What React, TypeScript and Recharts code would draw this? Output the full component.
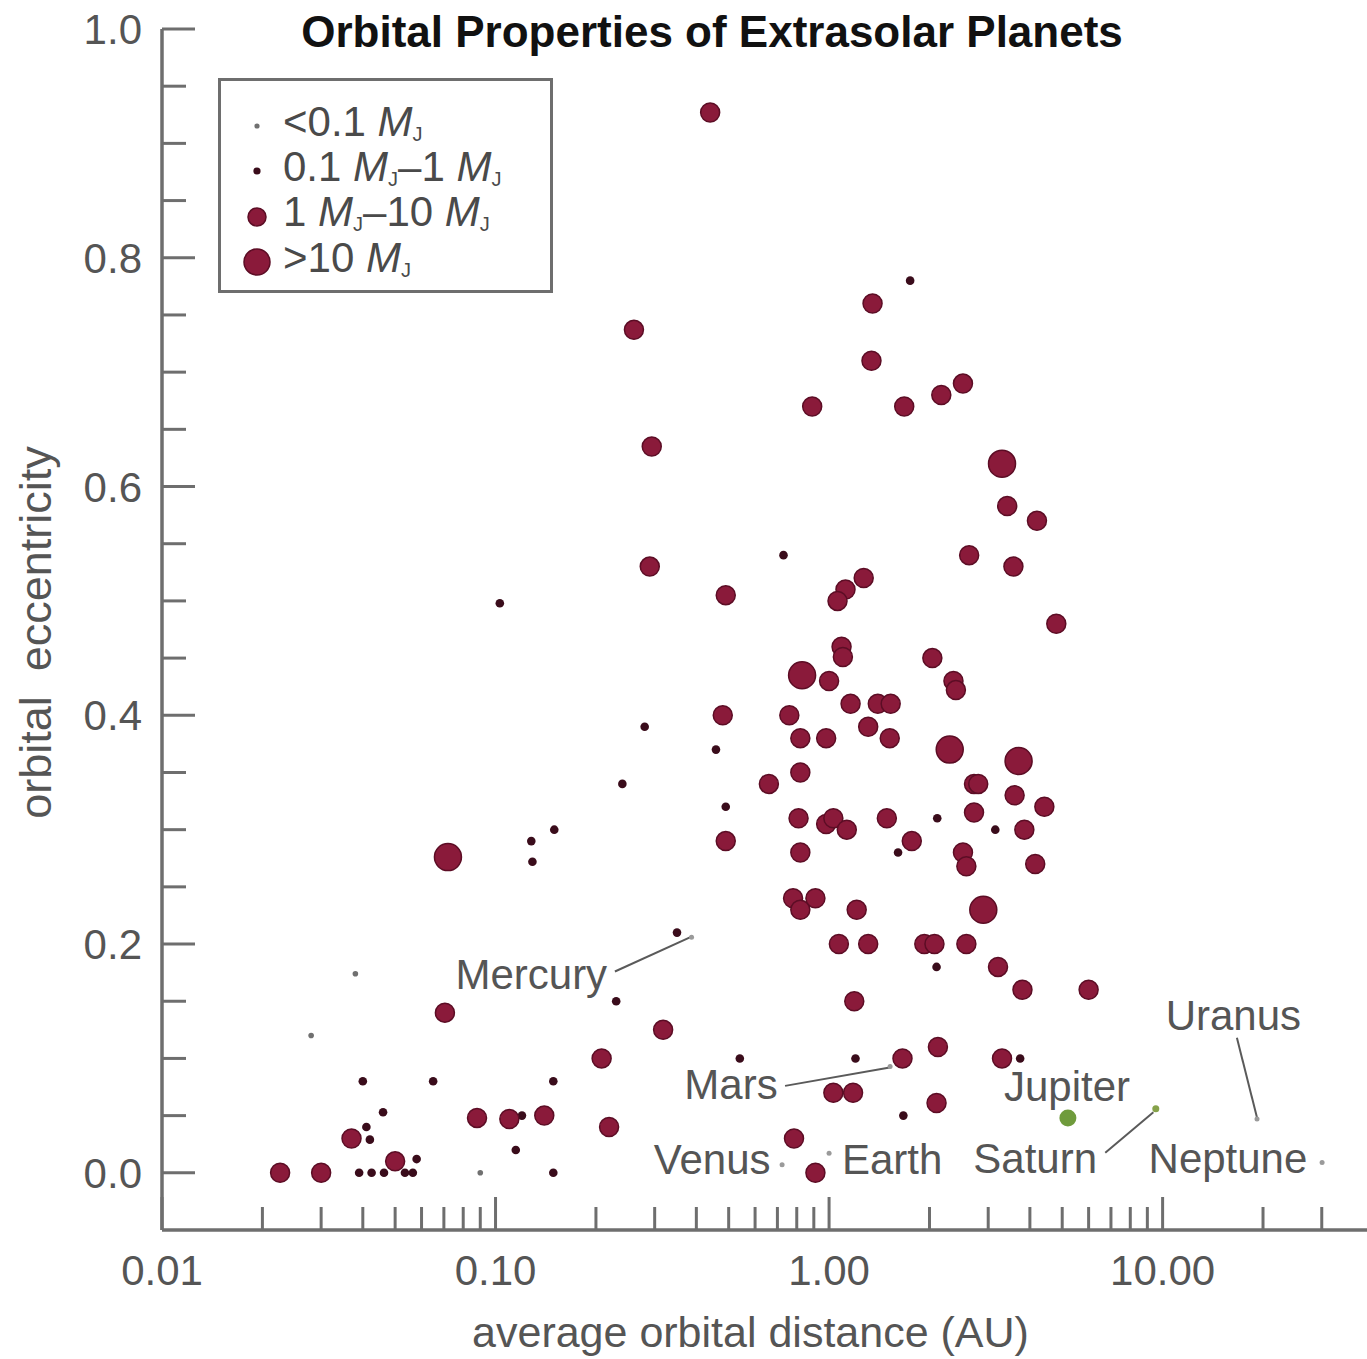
import React from 'react';
import { ScatterChart, Scatter, XAxis, YAxis, Legend, ReferenceLine, ReferenceDot } from 'recharts';

const FONT = '"Liberation Sans", Arial, Helvetica, sans-serif';
const TEXT = '#555555';
const AXIS = '#6e6e6e';

// ---- axis ticks ----
const xTicks = [0.01, 0.02, 0.03, 0.04, 0.05, 0.06, 0.07, 0.08, 0.09, 0.1, 0.2, 0.3, 0.4, 0.5, 0.6, 0.7, 0.8, 0.9, 1, 2, 3, 4, 5, 6, 7, 8, 9, 10, 20, 30];
const xMajorTicks = [0.01, 0.1, 1, 10];
const yTicks = [0, 0.05, 0.1, 0.15, 0.2, 0.25, 0.3, 0.35, 0.4, 0.45, 0.5, 0.55, 0.6, 0.65, 0.7, 0.75, 0.8, 0.85, 0.9, 0.95, 1.0];
const yLabelledTicks = [0, 0.2, 0.4, 0.6, 0.8, 1.0];

type Pt = { a: number; e: number };

// ---- exoplanets by mass class (a = AU, e = eccentricity) ----
const planetsBelow01: Pt[] = [
  { a: 0.038, e: 0.174 }, { a: 0.028, e: 0.12 }, { a: 0.09, e: 0.0 },
];

const planets01to1: Pt[] = [
  { a: 1.75, e: 0.78 }, { a: 0.73, e: 0.54 }, { a: 0.103, e: 0.498 }, { a: 0.28, e: 0.39 },
  { a: 0.458, e: 0.37 }, { a: 0.49, e: 0.32 }, { a: 0.24, e: 0.34 }, { a: 0.15, e: 0.30 },
  { a: 0.128, e: 0.29 }, { a: 0.129, e: 0.272 }, { a: 0.54, e: 0.10 }, { a: 1.2, e: 0.10 },
  { a: 1.67, e: 0.05 }, { a: 2.11, e: 0.31 }, { a: 3.15, e: 0.30 }, { a: 2.1, e: 0.18 },
  { a: 3.74, e: 0.10 }, { a: 1.61, e: 0.28 }, { a: 0.23, e: 0.15 }, { a: 0.35, e: 0.21 },
  { a: 0.040, e: 0.08 }, { a: 0.065, e: 0.08 }, { a: 0.149, e: 0.08 }, { a: 0.046, e: 0.053 },
  { a: 0.12, e: 0.05 }, { a: 0.041, e: 0.04 }, { a: 0.042, e: 0.029 }, { a: 0.115, e: 0.02 },
  { a: 0.039, e: 0.0 }, { a: 0.0425, e: 0.0 }, { a: 0.0463, e: 0.0 }, { a: 0.0535, e: 0.0 },
  { a: 0.0565, e: 0.0 }, { a: 0.058, e: 0.012 }, { a: 0.149, e: 0.0 },
];

const planets1to10: Pt[] = [
  { a: 0.44, e: 0.927 }, { a: 0.26, e: 0.737 }, { a: 1.35, e: 0.76 }, { a: 1.34, e: 0.71 },
  { a: 2.52, e: 0.69 }, { a: 2.17, e: 0.68 }, { a: 0.89, e: 0.67 }, { a: 1.68, e: 0.67 },
  { a: 0.294, e: 0.635 }, { a: 3.42, e: 0.583 }, { a: 4.2, e: 0.57 }, { a: 2.63, e: 0.54 },
  { a: 0.29, e: 0.53 }, { a: 0.49, e: 0.505 }, { a: 3.57, e: 0.53 }, { a: 1.27, e: 0.52 },
  { a: 1.12, e: 0.51 }, { a: 1.06, e: 0.50 }, { a: 4.8, e: 0.48 }, { a: 2.04, e: 0.45 },
  { a: 1.09, e: 0.46 }, { a: 1.10, e: 0.451 }, { a: 2.36, e: 0.43 }, { a: 2.40, e: 0.422 },
  { a: 1.0, e: 0.43 }, { a: 0.48, e: 0.40 }, { a: 0.76, e: 0.40 }, { a: 1.16, e: 0.41 },
  { a: 1.40, e: 0.41 }, { a: 1.53, e: 0.41 }, { a: 1.31, e: 0.39 }, { a: 0.82, e: 0.38 },
  { a: 0.98, e: 0.38 }, { a: 1.52, e: 0.38 }, { a: 0.66, e: 0.34 }, { a: 0.82, e: 0.35 },
  { a: 3.6, e: 0.33 }, { a: 3.85, e: 0.30 }, { a: 4.15, e: 0.27 }, { a: 2.72, e: 0.34 },
  { a: 2.8, e: 0.34 }, { a: 2.72, e: 0.315 }, { a: 4.42, e: 0.32 }, { a: 0.49, e: 0.29 },
  { a: 0.81, e: 0.31 }, { a: 0.98, e: 0.305 }, { a: 1.03, e: 0.31 }, { a: 1.13, e: 0.30 },
  { a: 1.49, e: 0.31 }, { a: 0.82, e: 0.28 }, { a: 1.77, e: 0.29 }, { a: 2.52, e: 0.28 },
  { a: 2.58, e: 0.268 }, { a: 0.78, e: 0.24 }, { a: 0.82, e: 0.23 }, { a: 0.91, e: 0.24 },
  { a: 1.21, e: 0.23 }, { a: 1.07, e: 0.20 }, { a: 1.31, e: 0.20 }, { a: 1.93, e: 0.20 },
  { a: 2.07, e: 0.20 }, { a: 2.58, e: 0.20 }, { a: 3.21, e: 0.18 }, { a: 3.8, e: 0.16 },
  { a: 6.0, e: 0.16 }, { a: 0.0705, e: 0.14 }, { a: 1.19, e: 0.15 }, { a: 0.318, e: 0.125 },
  { a: 0.208, e: 0.10 }, { a: 1.66, e: 0.10 }, { a: 2.12, e: 0.11 }, { a: 3.3, e: 0.10 },
  { a: 1.03, e: 0.07 }, { a: 1.18, e: 0.07 }, { a: 0.088, e: 0.048 }, { a: 0.110, e: 0.047 },
  { a: 0.14, e: 0.05 }, { a: 0.219, e: 0.04 }, { a: 2.1, e: 0.061 }, { a: 0.785, e: 0.03 },
  { a: 0.037, e: 0.03 }, { a: 0.0226, e: 0.0 }, { a: 0.030, e: 0.0 }, { a: 0.050, e: 0.01 },
  { a: 0.91, e: 0.0 },
];

const planetsAbove10: Pt[] = [
  { a: 0.072, e: 0.276 }, { a: 0.83, e: 0.435 }, { a: 3.3, e: 0.62 },
  { a: 2.3, e: 0.37 }, { a: 3.7, e: 0.36 }, { a: 2.9, e: 0.23 },
];

// ---- solar system ----
const solarSmall: Pt[] = [
  { a: 0.387, e: 0.206 }, { a: 0.723, e: 0.007 }, { a: 1.0, e: 0.017 },
  { a: 1.524, e: 0.093 }, { a: 19.19, e: 0.047 }, { a: 30.07, e: 0.009 },
];
const jupiter: Pt[] = [{ a: 5.2, e: 0.048 }];
const saturn: Pt[] = [{ a: 9.54, e: 0.056 }];

const planetLabels = [
  { name: 'Mercury', a: 0.128, e: 0.174 },
  { name: 'Venus', a: 0.446, e: 0.012 },
  { name: 'Earth', a: 1.545, e: 0.012 },
  { name: 'Mars', a: 0.508, e: 0.078 },
  { name: 'Jupiter', a: 5.17, e: 0.076 },
  { name: 'Saturn', a: 4.15, e: 0.013 },
  { name: 'Uranus', a: 16.3, e: 0.138 },
  { name: 'Neptune', a: 15.7, e: 0.013 },
];

const pointerLines = [
  { from: { a: 0.228, e: 0.176 }, to: { a: 0.39, e: 0.207 } },
  { from: { a: 0.738, e: 0.076 }, to: { a: 1.52, e: 0.092 } },
  { from: { a: 6.73, e: 0.0175 }, to: { a: 9.38, e: 0.053 } },
  { from: { a: 16.7, e: 0.118 }, to: { a: 19.2, e: 0.048 } },
];

const massClasses = [
  { key: 'lt01', lo: '<0.1', hi: '', r: 2.8, lr: 2.6, fill: '#707070', stroke: 'none' },
  { key: '01to1', lo: '0.1', hi: '1', r: 4.3, lr: 3.6, fill: '#3a0c1b', stroke: 'none' },
  { key: '1to10', lo: '1', hi: '10', r: 9.5, lr: 9, fill: '#8a1a3a', stroke: '#5c0d25' },
  { key: 'gt10', lo: '>10', hi: '', r: 13.5, lr: 13, fill: '#8a1a3a', stroke: '#5c0d25' },
];

const dot = (r: number, fill: string, stroke: string) => (props: any) => {
  const { cx, cy } = props;
  if (cx == null || cy == null) return <g />;
  return <circle cx={cx} cy={cy} r={r} fill={fill} stroke={stroke} strokeWidth={stroke === 'none' ? 0 : 1.5} />;
};

const near = (arr: number[], v: number) => arr.some((m) => Math.abs(m - v) < 1e-9);

const XTick = (props: any) => {
  const { x, y, payload } = props;
  const v = payload.value as number;
  const major = near(xMajorTicks, v);
  return (
    <g>
      <line x1={x} x2={x} y1={y} y2={y - (major ? 33 : 23)} stroke={AXIS} strokeWidth={3} />
      {major && (
        <text x={x} y={y + 55} textAnchor="middle" fontSize={42} fill={TEXT} fontFamily={FONT}>
          {v.toFixed(2)}
        </text>
      )}
    </g>
  );
};

const YTick = (props: any) => {
  const { x, y, payload } = props;
  const v = payload.value as number;
  const labelled = near(yLabelledTicks, v);
  return (
    <g>
      <line x1={x} x2={x + (labelled ? 33 : 24)} y1={y} y2={y} stroke={AXIS} strokeWidth={3} />
      {labelled && (
        <text x={x - 20} y={y} dy="0.36em" textAnchor="end" fontSize={42} fill={TEXT} fontFamily={FONT}>
          {v.toFixed(1)}
        </text>
      )}
    </g>
  );
};

const MJ = () => (
  <>
    <i>M</i>
    <span style={{ fontSize: 20, lineHeight: '14px', display: 'inline-block', verticalAlign: 'baseline', position: 'relative', top: 5 }}>J</span>
  </>
);

const renderLegend = () => (
  <div
    style={{
      boxSizing: 'border-box',
      width: 335,
      height: 215,
      border: `3px solid ${AXIS}`,
      background: '#fff',
      paddingTop: 18,
      fontFamily: FONT,
      fontSize: 42,
      color: '#4a4a4a',
    }}
  >
    {massClasses.map((m) => (
      <div key={m.key} style={{ display: 'flex', alignItems: 'center', height: 45.3, lineHeight: '40px' }}>
        <svg width={62} height={45} style={{ flex: 'none' }}>
          <circle cx={36} cy={27} r={m.lr} fill={m.fill} stroke={m.stroke} strokeWidth={m.stroke === 'none' ? 0 : 1.5} />
        </svg>
        <span style={{ whiteSpace: 'nowrap' }}>
          {m.lo} {m.hi ? (<><MJ />–{m.hi} <MJ /></>) : <MJ />}
        </span>
      </div>
    ))}
  </div>
);

const LabelText = (props: any) => {
  const { cx, cy, name } = props;
  return (
    <text x={cx} y={cy} dy="0.36em" textAnchor="middle" fontSize={42} fill={TEXT} fontFamily={FONT}>
      {name}
    </text>
  );
};

export default function App() {
  return (
    <div style={{ position: 'absolute', left: 0, top: 0, width: 1367, height: 1359, background: '#fff' }}>
      <div
        style={{
          position: 'absolute',
          left: 212,
          width: 1000,
          top: 10,
          textAlign: 'center',
          fontFamily: FONT,
          fontWeight: 'bold',
          fontSize: 44,
          lineHeight: '44px',
          color: '#111',
          zIndex: 2,
        }}
      >
        Orbital Properties of Extrasolar Planets
      </div>
      <ScatterChart width={1367} height={1359} margin={{ top: 29, right: 0, bottom: 0, left: 0 }}>
        <XAxis
          type="number"
          dataKey="a"
          scale="log"
          domain={[0.01, 41]}
          allowDataOverflow
          ticks={xTicks}
          interval={0}
          height={129}
          tickSize={0}
          tickMargin={0}
          tickLine={false}
          tick={<XTick />}
          axisLine={{ stroke: AXIS, strokeWidth: 3.5 }}
          label={{
            content: (p: any) => {
              const vb = p.viewBox || {};
              return (
                <text x={vb.x + vb.width / 2 - 14} y={vb.y + 117} textAnchor="middle" fontSize={43} fill={TEXT} fontFamily={FONT}>
                  average orbital distance (AU)
                </text>
              );
            },
          }}
        />
        <YAxis
          type="number"
          dataKey="e"
          domain={[-0.05, 1.0]}
          allowDataOverflow
          ticks={yTicks}
          interval={0}
          width={162}
          tickSize={0}
          tickMargin={0}
          tickLine={false}
          tick={<YTick />}
          axisLine={{ stroke: AXIS, strokeWidth: 3.5 }}
          label={{
            content: (p: any) => {
              const vb = p.viewBox || {};
              const cx = vb.x + 35;
              const cy = vb.y + vb.height / 2 + 3;
              return (
                <text x={cx} y={cy} dy="0.36em" textAnchor="middle" fontSize={45} fill={TEXT} fontFamily={FONT} transform={`rotate(-90 ${cx} ${cy})`} style={{ whiteSpace: 'pre' }}>
                  {'orbital  eccentricity'}
                </text>
              );
            },
          }}
        />
        <Legend
          layout="vertical"
          align="center"
          verticalAlign="middle"
          content={renderLegend}
          wrapperStyle={{ top: 78, left: 218, width: 335, height: 215 }}
        />
        {pointerLines.map((l, i) => (
          <ReferenceLine
            key={`pl${i}`}
            segment={[{ x: l.from.a, y: l.from.e }, { x: l.to.a, y: l.to.e }]}
            stroke="#5a5a5a"
            strokeWidth={2}
          />
        ))}
        <Scatter name="solar" data={solarSmall} fill="#9a9a9a" shape={dot(2.5, '#9a9a9a', 'none')} isAnimationActive={false} legendType="none" />
        <Scatter name="<0.1 MJ" data={planetsBelow01} fill={massClasses[0].fill} shape={dot(massClasses[0].r, massClasses[0].fill, massClasses[0].stroke)} isAnimationActive={false} />
        <Scatter name="0.1 MJ-1 MJ" data={planets01to1} fill={massClasses[1].fill} shape={dot(massClasses[1].r, massClasses[1].fill, massClasses[1].stroke)} isAnimationActive={false} />
        <Scatter name="1 MJ-10 MJ" data={planets1to10} fill={massClasses[2].fill} shape={dot(massClasses[2].r, massClasses[2].fill, massClasses[2].stroke)} isAnimationActive={false} />
        <Scatter name=">10 MJ" data={planetsAbove10} fill={massClasses[3].fill} shape={dot(massClasses[3].r, massClasses[3].fill, massClasses[3].stroke)} isAnimationActive={false} />
        <Scatter name="Jupiter" data={jupiter} fill="#6f9b3c" shape={dot(8.5, '#6f9b3c', 'none')} isAnimationActive={false} legendType="none" />
        <Scatter name="Saturn" data={saturn} fill="#86a24a" shape={dot(3.5, '#86a24a', 'none')} isAnimationActive={false} legendType="none" />
        {planetLabels.map((l) => (
          <ReferenceDot key={l.name} x={l.a} y={l.e} r={0} shape={(p: any) => <LabelText {...p} name={l.name} />} />
        ))}
      </ScatterChart>
    </div>
  );
}
